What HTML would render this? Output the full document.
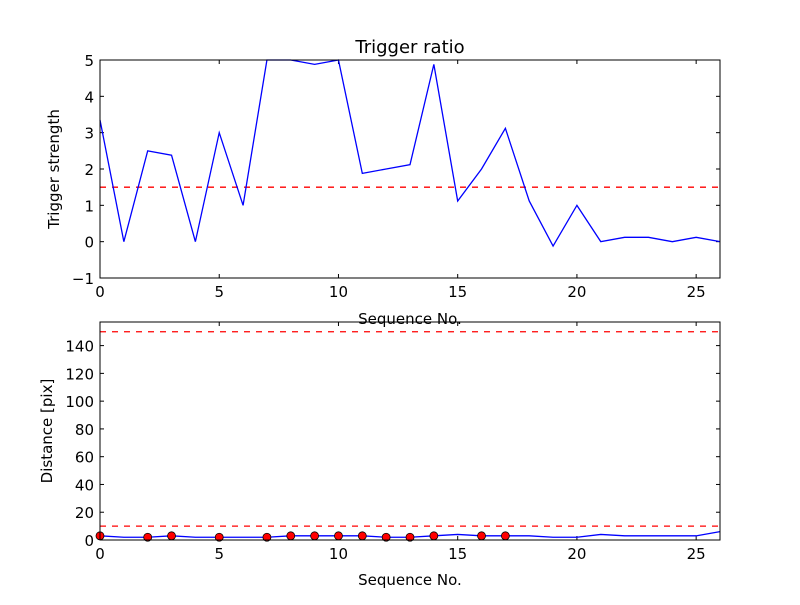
<!DOCTYPE html>
<html><head><meta charset="utf-8"><style>
html,body{margin:0;padding:0;background:#fff;}
svg text{font-family:"DejaVu Sans","Liberation Sans",sans-serif;}
</style></head><body>
<svg id="fig" width="800" height="600" xmlns="http://www.w3.org/2000/svg"></svg>
<script>
const seq = [0,1,2,3,4,5,6,7,8,9,10,11,12,13,14,15,16,17,18,19,20,21,22,23,24,25,26];
const ratio = [3.35,0,2.5,2.38,0,3,1,5,5,4.88,5,1.88,2.0,2.12,4.88,1.12,2,3.12,1.12,-0.12,1,0,0.12,0.12,0,0.12,0];
const ratioThreshold = 1.5;
const dist = [3,2,2,3,2,2,2,2,3,3,3,3,2,2,3,4,3,3,3,2,2,4,3,3,3,3,6];
const markerIdx = [0,2,3,5,7,8,9,10,11,12,13,14,16,17];
const distThresholds = [10,150];
const xTicks = [0,5,10,15,20,25];
const yTicksTop = [-1,0,1,2,3,4,5];
const yTicksBot = [0,20,40,60,80,100,120,140];

const NS="http://www.w3.org/2000/svg";
const svg=document.getElementById('fig');
function mk(tag,attrs,name,parent){const e=document.createElementNS(NS,tag);for(const k in attrs)e.setAttribute(k,attrs[k]);


(parent||svg).appendChild(e);return e;}

function axes(top,bottom,ymin,ymax,yticks,prefix){
  const L=100,R=720;
  const sx=v=>L+(v-0)/(26-0)*(R-L);
  const sy=v=>bottom-(v-ymin)/(ymax-ymin)*(bottom-top);
  const g=mk('g',{},prefix+'-axes');
  for(const t of xTicks){
    mk('line',{x1:sx(t),x2:sx(t),y1:bottom,y2:bottom-4,stroke:'#000'},prefix+'-x-tick',g);
    mk('line',{x1:sx(t),x2:sx(t),y1:top,y2:top+4,stroke:'#000'},prefix+'-x-tick-top',g);
    const tx=mk('text',{x:sx(t),y:bottom+19,'font-size':15,'text-anchor':'middle'},prefix+'-x-tick-label',g);tx.textContent=t;
  }
  for(const t of yticks){
    mk('line',{x1:L,x2:L+4,y1:sy(t),y2:sy(t),stroke:'#000'},prefix+'-y-tick',g);
    mk('line',{x1:R,x2:R-4,y1:sy(t),y2:sy(t),stroke:'#000'},prefix+'-y-tick-right',g);
    const tx=mk('text',{x:L-6,y:sy(t)+6,'font-size':15,'text-anchor':'end'},prefix+'-y-tick-label',g);tx.textContent=(t<0?'\u2212'+(-t):t);
  }
  return {sx,sy,L,R,g};
}

// top
const A=axes(60,278,-1,5,yTicksTop,'top');
mk('line',{x1:A.L,x2:A.R,y1:A.sy(ratioThreshold),y2:A.sy(ratioThreshold),stroke:'#f00','stroke-width':1.3,'stroke-dasharray':'6,6'},'ratio-threshold-line');
mk('polyline',{points:seq.map((s,i)=>A.sx(s)+','+A.sy(ratio[i])).join(' '),fill:'none',stroke:'#00f','stroke-width':1.3},'ratio-line');
mk('rect',{x:100,y:60,width:620,height:218,fill:'none',stroke:'#000','stroke-width':1},'top-frame');
let t=mk('text',{x:410,y:53,'font-size':18,'text-anchor':'middle'},'top-title');t.textContent='Trigger ratio';
t=mk('text',{x:410,y:324,'font-size':15,'text-anchor':'middle'},'top-x-axis-title');t.textContent='Sequence No.';
t=mk('text',{x:0,y:0,'font-size':15,'text-anchor':'middle',transform:'translate(59,169) rotate(-90)'},'top-y-axis-title');t.textContent='Trigger strength';

// bottom
const B=axes(322,540,0,157,yTicksBot,'bottom');
for(const d of distThresholds){
  mk('line',{x1:B.L,x2:B.R,y1:B.sy(d),y2:B.sy(d),stroke:'#f00','stroke-width':1.3,'stroke-dasharray':'6,6'},'distance-threshold-line');
}
mk('polyline',{points:seq.map((s,i)=>B.sx(s)+','+B.sy(dist[i])).join(' '),fill:'none',stroke:'#00f','stroke-width':1.3},'distance-line');
for(const i of markerIdx){
  mk('circle',{cx:B.sx(seq[i]),cy:B.sy(dist[i]),r:4,fill:'#f00',stroke:'#000','stroke-width':0.8},'distance-marker');
}
mk('rect',{x:100,y:322,width:620,height:218,fill:'none',stroke:'#000','stroke-width':1},'bottom-frame');
t=mk('text',{x:410,y:585,'font-size':15,'text-anchor':'middle'},'bottom-x-axis-title');t.textContent='Sequence No.';
t=mk('text',{x:0,y:0,'font-size':15,'text-anchor':'middle',transform:'translate(52,431) rotate(-90)'},'bottom-y-axis-title');t.textContent='Distance [pix]';
</script>
</body></html>
